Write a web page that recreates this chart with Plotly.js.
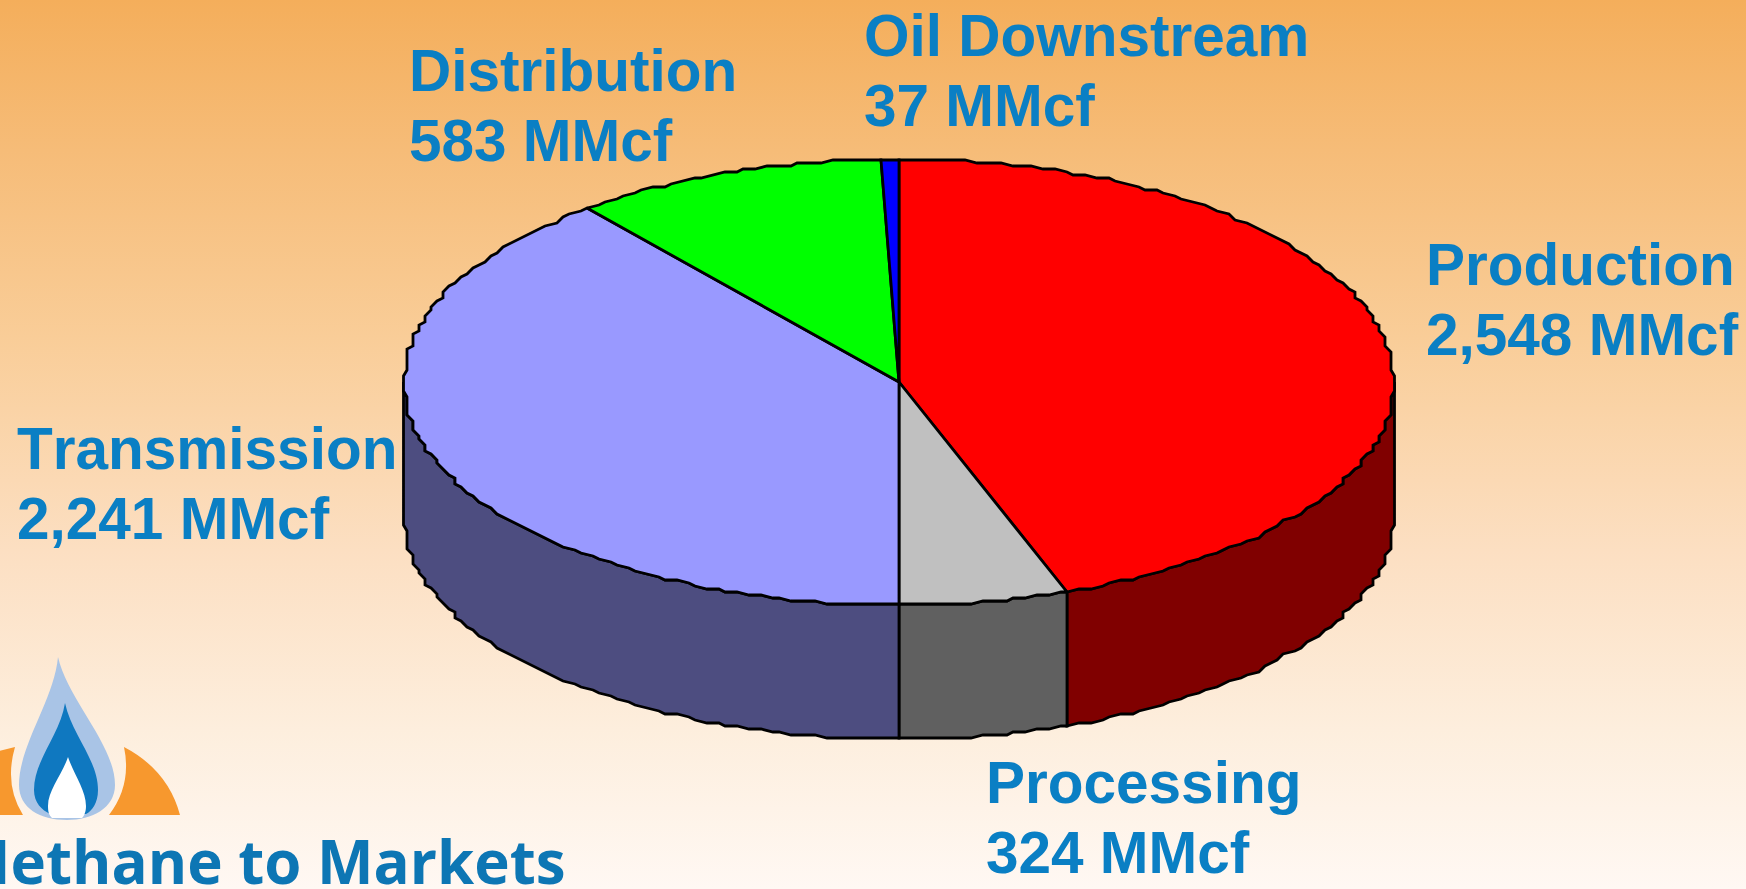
<!DOCTYPE html>
<html>
<head>
<meta charset="utf-8">
<script src="https://cdn.plot.ly/plotly-3.0.1.min.js"></script>
<style>
html,body{margin:0;padding:0;width:1746px;height:889px;overflow:hidden;
background:linear-gradient(to bottom,#f4ae5b 0%,#f6bc78 17%,#f9cd98 38%,#fcdfc2 62%,#fdeedd 82%,#fff8f3 100%);}
#chart{width:1746px;height:889px;}
svg text{font-kerning:none;}
</style>
</head>
<body>
<div id="chart"></div>
<script>
// Data
const categories = ['Production','Processing','Transmission','Distribution','Oil Downstream'];
const values = [2548,324,2241,583,37];
const unit = 'MMcf';

// Styles and layout
const topColors  = ['#ff0000','#c0c0c0','#9999ff','#00ff00','#0000ff'];
const sideColors = ['#800000','#606060','#4d4d80','#008000','#000080'];
const labelX = [1425,985,16,408,863];
const labelBaseY = [284.5,802.5,468.5,90.5,55.5];
const lineGap = 69.5;
const fontSize = 58.5;
const labelColor = '#0a7fc4';
const pie = {cx:899, cy:382, rx:495.5, ry:223, depth:134, snapX:6, snapY:3, stepDeg:1.3};

const total = values.reduce((a,b)=>a+b,0);
// the reference's rim is a coarse, stepped outline: snap the rim to a small grid
const clamp = (v,m) => Math.max(-m,Math.min(m,v));
const px = t => pie.cx + clamp(Math.round(pie.rx*Math.sin(t)/pie.snapX)*pie.snapX, pie.rx);
const py = (t,d=0) => pie.cy + clamp(Math.round(-pie.ry*Math.cos(t)/pie.snapY)*pie.snapY, pie.ry) + d;
const DEG = Math.PI/180;
function arc(a,b,d){
  // sample on one shared angular grid, so neighbouring slices share their rim
  const step = pie.stepDeg*DEG, lo=Math.min(a,b), hi=Math.max(a,b);
  const ts=[lo];
  for(let k=Math.floor(lo/step)+1;k*step<hi;k++) ts.push(k*step);
  ts.push(hi);
  if(a>b) ts.reverse();
  return [ts.map(px), ts.map(t=>py(t,d))];
}
const line = {color:'#000',width:2.8,shape:'linear'};
const sideTraces=[], topTraces=[];
let cum=0;
values.forEach((v,i)=>{
  const a=cum/total*2*Math.PI, b=(cum+v)/total*2*Math.PI; cum+=v;
  const [tx,ty]=arc(a,b,0);
  topTraces.push({type:'scatter',mode:'lines',x:[pie.cx,...tx,pie.cx],y:[pie.cy,...ty,pie.cy],
    fill:'toself',fillcolor:topColors[i],line,hoverinfo:'text',text:categories[i]+': '+v+' '+unit,name:categories[i],showlegend:false});
  const s=Math.max(a,Math.PI/2), e=Math.min(b,1.5*Math.PI);
  if(e>s){
    const [ax,ay]=arc(s,e,0), [bx,by]=arc(e,s,pie.depth);
    sideTraces.push({type:'scatter',mode:'lines',x:[...ax,...bx,ax[0]],y:[...ay,...by,ay[0]],
      fill:'toself',fillcolor:sideColors[i],line,hoverinfo:'skip',showlegend:false});
  }
});

const annotations=[];
categories.forEach((c,i)=>{
  const common={xref:'x',yref:'y',xanchor:'left',yanchor:'middle',showarrow:false,borderpad:0,
    font:{family:'Liberation Sans, Arial, sans-serif',size:fontSize,color:labelColor}};
  annotations.push({...common,x:labelX[i],y:labelBaseY[i]-20,text:'<b>'+c+'</b>'});
  annotations.push({...common,x:labelX[i],y:labelBaseY[i]+lineGap-20,text:'<b>'+values[i].toLocaleString('en-US')+' '+unit+'</b>'});
});
// Logo wordmark
annotations.push({xref:'x',yref:'y',x:567,y:861,xanchor:'right',yanchor:'middle',showarrow:false,borderpad:0,
  font:{family:'Open Sans, sans-serif',size:60,color:'#0d76b4'},text:'<b>Methane to Markets</b>'});

// Logo artwork
const logoShapes=[
 {path:'M124,747 Q168,770 180,815 L109,815 Q132,785 124,747 Z',color:'#f7982e'},
 {path:'M-5,752 L15,747 Q4,785 23,815 L-5,815 Z',color:'#f7982e'},
 {path:'M58,657 C68,700 115,745 115,785 C115,808 92,820 67,820 C40,820 19,808 19,785 C19,745 54,700 58,657 Z',color:'#a9c4e6'},
 {path:'M65,703 C72,735 98,760 98,790 C98,803 92,811 86,814 L50,814 C42,810 34,803 34,790 C34,760 60,735 65,703 Z',color:'#0f78c0'},
 {path:'M68,757 C74,775 86,790 86,806 C86,812 84,816 82,818 L52,818 C49,815 48,812 48,806 C48,790 62,775 68,757 Z',color:'#ffffff'}
].map(s=>({type:'path',xref:'x',yref:'y',path:s.path,fillcolor:s.color,line:{width:0},layer:'below'}));

Plotly.newPlot('chart',[...sideTraces,...topTraces],{
  width:1746,height:889,margin:{l:0,r:0,t:0,b:0},showlegend:false,
  paper_bgcolor:'rgba(0,0,0,0)',plot_bgcolor:'rgba(0,0,0,0)',
  xaxis:{range:[0,1746],visible:false,fixedrange:true},
  yaxis:{range:[889,0],visible:false,fixedrange:true},
  annotations,shapes:logoShapes
},{displayModeBar:false,staticPlot:true});
</script>
</body>
</html>
